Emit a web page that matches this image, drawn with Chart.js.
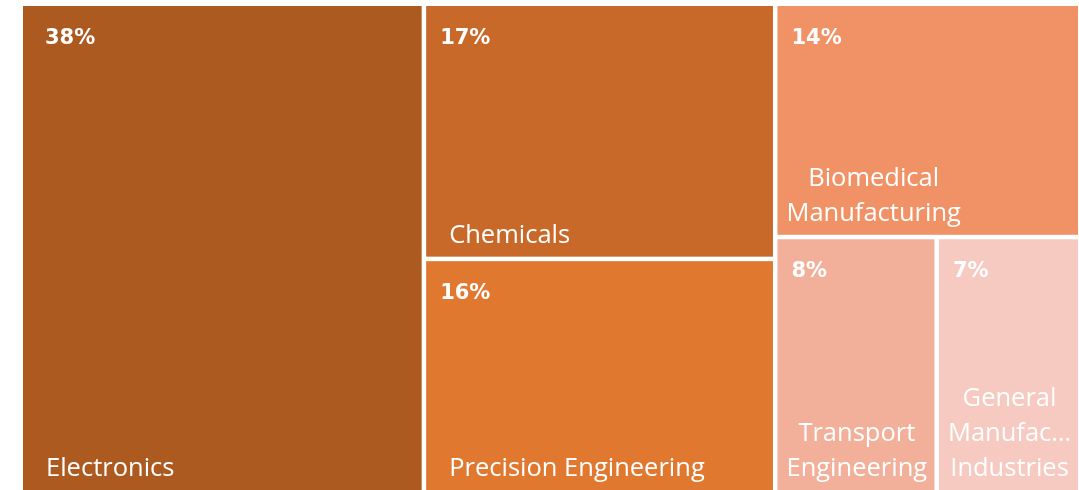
<!DOCTYPE html>
<html>
<head>
<meta charset="utf-8">
<script src="https://cdn.jsdelivr.net/npm/chart.js"></script>
<style>
  html, body { margin: 0; padding: 0; background: #fff; }
  #wrap { width: 1079px; height: 490px; position: relative; }
</style>
</head>
<body>
<div id="wrap"><canvas id="treemap"></canvas></div>
<script>
// Data (share of total, %)
const categories = ['Electronics', 'Chemicals', 'Precision Engineering', 'Biomedical Manufacturing', 'Transport Engineering', 'General Manufacturing Industries'];
const shares = [38.0, 17.4, 15.9, 13.7, 8.0, 7.0];
const shareLabels = ['38%', '17%', '16%', '14%', '8%', '7%'];

const cellColors = ['#ad5a21', '#c8692a', '#e07830', '#f09266', '#f2b09b', '#f6cac0'];

// squarified layout in a w x h box (y going down), returns rects per value
function squarify(vals, w, h) {
  const total = vals.reduce((a, b) => a + b, 0);
  const areas = vals.map(v => v / total * w * h);
  const out = [];
  let r = { x: 0, y: 0, w: w, h: h };
  let i = 0;
  const worst = (row, side) => {
    const s = row.reduce((a, b) => a + b, 0);
    let m = 0;
    row.forEach(a => { m = Math.max(m, side * side * a / (s * s), s * s / (side * side * a)); });
    return m;
  };
  while (i < areas.length) {
    const side = Math.min(r.w, r.h);
    let row = [areas[i]];
    let best = worst(row, side);
    while (i + row.length < areas.length) {
      const next = row.concat([areas[i + row.length]]);
      const wv = worst(next, side);
      if (wv <= best) { row = next; best = wv; } else break;
    }
    const s = row.reduce((a, b) => a + b, 0);
    if (r.w >= r.h) {
      const cw = s / r.h;
      let yy = r.y;
      row.forEach(a => { const hh = a / cw; out.push({ x: r.x, y: yy, w: cw, h: hh }); yy += hh; });
      r.x += cw; r.w -= cw;
    } else {
      const rh = s / r.w;
      let xx = r.x;
      row.forEach(a => { const ww = a / rh; out.push({ x: xx, y: r.y, w: ww, h: rh }); xx += ww; });
      r.y += rh; r.h -= rh;
    }
    i += row.length;
  }
  return out;
}

function wrapText(ctx, text, maxW) {
  const words = text.split(' ');
  const lines = [];
  let cur = '';
  words.forEach(wd => {
    const t = cur ? cur + ' ' + wd : wd;
    if (ctx.measureText(t).width <= maxW) { cur = t; return; }
    if (cur) lines.push(cur);
    cur = wd;
  });
  if (cur) lines.push(cur);
  return lines.map(l => {
    if (ctx.measureText(l).width <= maxW) return l;
    let s = l;
    while (s.length > 1 && ctx.measureText(s + '…').width > maxW) s = s.slice(0, -1);
    return s + '…';
  });
}

const treemapPlugin = {
  id: 'treemapCells',
  afterDatasetsDraw(chart) {
    const { ctx, chartArea: ca, scales } = chart;
    const W = ca.right - ca.left, H = ca.bottom - ca.top;
    // layout in pixel proportions, then express in data units (0-100) and map through the scales
    const rects = squarify(shares, W, H).map(r => ({
      x0: r.x / W * 100, x1: (r.x + r.w) / W * 100,
      y0: 100 - r.y / H * 100, y1: 100 - (r.y + r.h) / H * 100
    }));
    const gap = 2.25;
    ctx.save();
    rects.forEach((r, i) => {
      let left = scales.x.getPixelForValue(r.x0);
      let right = scales.x.getPixelForValue(r.x1);
      let top = scales.y.getPixelForValue(r.y0);
      let bottom = scales.y.getPixelForValue(r.y1);
      if (left > ca.left + 1) left += gap;
      if (right < ca.right - 1) right -= gap;
      if (top > ca.top + 1) top += gap;
      if (bottom < ca.bottom - 1) bottom -= gap;
      ctx.fillStyle = cellColors[i];
      ctx.fillRect(left, top, right - left, bottom - top);

      ctx.fillStyle = '#ffffff';
      ctx.textBaseline = 'alphabetic';
      ctx.textAlign = 'left';
      ctx.font = 'bold 21px "DejaVu Sans"';
      ctx.fillText(shareLabels[i], left + (i === 0 ? 22 : 14), top + 38);

      ctx.font = '25.5px "Open Sans"';
      const cw = right - left;
      const single = ctx.measureText(categories[i]).width <= cw - 30;
      if (single) {
        ctx.fillText(categories[i], left + 23, bottom - 14);
      } else {
        const lines = wrapText(ctx, categories[i], cw - 14);
        const bw = Math.max(...lines.map(l => ctx.measureText(l).width));
        const cx = left + 9 + bw / 2;
        ctx.textAlign = 'center';
        lines.forEach((l, k) => {
          ctx.fillText(l, cx, bottom - 14 - (lines.length - 1 - k) * 35);
        });
      }
    });
    ctx.restore();
  }
};

new Chart(document.getElementById('treemap'), {
  type: 'scatter',
  data: { datasets: [{ data: [] }] },
  options: {
    responsive: true,
    maintainAspectRatio: false,
    animation: false,
    layout: { padding: { left: 23, top: 6, right: 1, bottom: 0 } },
    plugins: { legend: { display: false }, tooltip: { enabled: false } },
    scales: {
      x: { type: 'linear', min: 0, max: 100, display: false },
      y: { type: 'linear', min: 0, max: 100, display: false }
    }
  },
  plugins: [treemapPlugin]
});
</script>
</body>
</html>
